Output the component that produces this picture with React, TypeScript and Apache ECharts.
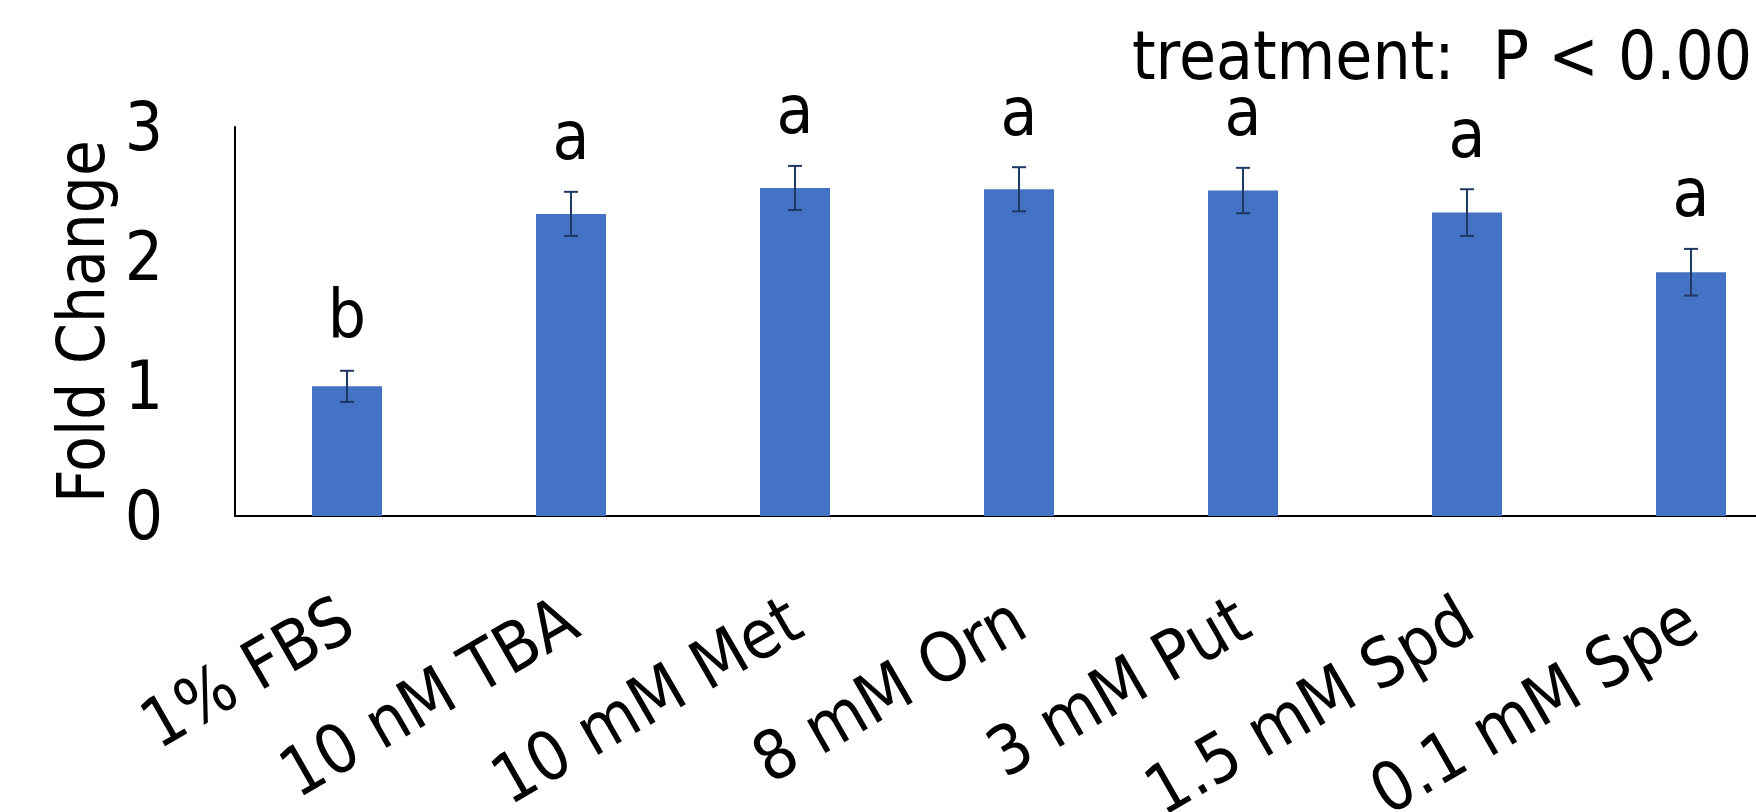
import React, { useEffect, useRef } from "react";
import * as echarts from "echarts";

const categories = ["1% FBS", "10 nM TBA", "10 mM Met", "8 mM Orn", "3 mM Put", "1.5 mM Spd", "0.1 mM Spe"];
const means = [1.0, 2.33, 2.53, 2.52, 2.51, 2.34, 1.88];
const errors = [0.12, 0.17, 0.17, 0.17, 0.175, 0.18, 0.18];
const letters = ["b", "a", "a", "a", "a", "a", "a"];
const yTicks = [0, 1, 2, 3];
const titleText = "treatment:  P < 0.001";
const yName = "Fold Change";

const FONT = "'Liberation Sans Narrow', 'DejaVu Sans Condensed', 'Open Sans', sans-serif";

export default function App() {
  const ref = useRef<HTMLDivElement>(null);
  useEffect(() => {
    if (!ref.current) return;
    const chart = echarts.init(ref.current, undefined, { renderer: "svg" });
    const errData = categories.map((c, i) => [i, means[i], errors[i]]);
    chart.setOption({
      animation: false,
      backgroundColor: "#ffffff",
      grid: {
        left: 235,
        top: 127,
        width: 1568,
        height: 389,
        containLabel: false,
        outerBoundsMode: "none",
      },
      graphic: [
        {
          type: "text",
          x: 1132,
          y: 56,
          style: {
            text: titleText,
            fontSize: 67,
            fontFamily: FONT,
            fill: "#000",
            verticalAlign: "middle",
          },
        },
      ],
      xAxis: {
        type: "category",
        data: categories,
        axisLine: { show: true, lineStyle: { color: "#000", width: 2 } },
        axisTick: { show: false },
        axisLabel: {
          rotate: 30,
          margin: 98,
          fontSize: 68,
          fontFamily: FONT,
          color: "#000",
          interval: 0,
        },
      },
      yAxis: {
        type: "value",
        min: yTicks[0],
        max: yTicks[yTicks.length - 1],
        interval: 1,
        name: yName,
        nameLocation: "middle",
        nameRotate: 90,
        nameGap: 120,
        nameTextStyle: { fontSize: 65, fontFamily: FONT, color: "#000" },
        axisLine: { show: true, lineStyle: { color: "#000", width: 2 } },
        axisTick: { show: false },
        splitLine: { show: false },
        axisLabel: { fontSize: 67, fontFamily: FONT, color: "#000", margin: 72 },
      },
      series: [
        {
          type: "bar",
          data: means,
          barWidth: 70,
          itemStyle: { color: "#4472C4" },
          z: 2,
        },
        {
          type: "custom",
          data: errData,
          z: 3,
          renderItem: (params: any, api: any) => {
            const idx = params.dataIndex;
            const x = api.value(0);
            const m = api.value(1);
            const sd = api.value(2);
            const top = api.coord([x, m + sd]);
            const bot = api.coord([x, m - sd]);
            const hw = 7;
            const st = { stroke: "#1F3864", lineWidth: 2 };
            return {
              type: "group",
              children: [
                { type: "line", shape: { x1: top[0], y1: top[1], x2: bot[0], y2: bot[1] }, style: st },
                { type: "line", shape: { x1: top[0] - hw, y1: top[1], x2: top[0] + hw, y2: top[1] }, style: st },
                { type: "line", shape: { x1: bot[0] - hw, y1: bot[1], x2: bot[0] + hw, y2: bot[1] }, style: st },
                {
                  type: "text",
                  x: top[0],
                  y: top[1] - 22,
                  style: {
                    text: letters[idx],
                    fontSize: 67,
                    fontFamily: FONT,
                    fill: "#000",
                    align: "center",
                    verticalAlign: "bottom",
                  },
                },
              ],
            };
          },
        },
      ],
    });
    return () => chart.dispose();
  }, []);
  return (
    <div style={{ position: "fixed", left: 0, top: 0, width: 1756, height: 812, overflow: "hidden", background: "#fff" }}>
      <div ref={ref} style={{ width: 1830, height: 812 }} />
    </div>
  );
}
